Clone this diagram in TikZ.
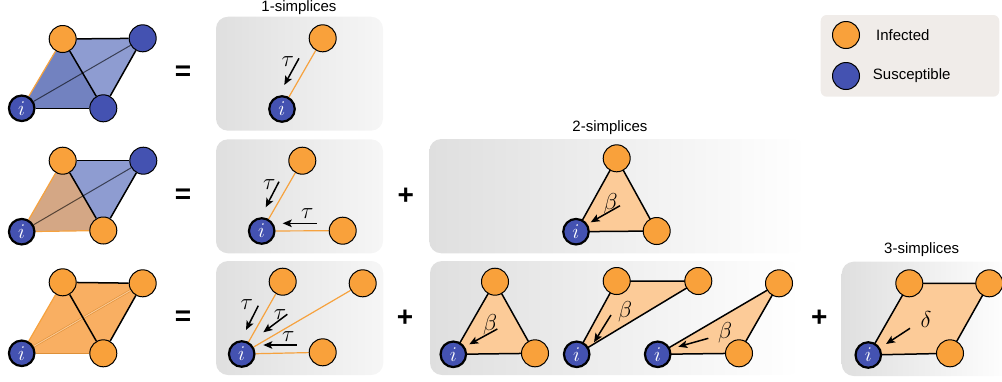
\RequirePackage{fix-cm}
\documentclass[tikz,border=0pt]{standalone}
\usepackage[no-math]{fontspec}
\setmainfont{Liberation Sans}
\usetikzlibrary{arrows.meta}
\definecolor{infc}{HTML}{F9A13B}
\definecolor{susc}{HTML}{4452B1}
\definecolor{facec}{HTML}{FCCB98}
\definecolor{edgeo}{HTML}{F6A23E}
\definecolor{panelL}{HTML}{DFDFDF}
\definecolor{legendc}{HTML}{F0ECE9}
\definecolor{blueA}{HTML}{7282C0}
\definecolor{blueB}{HTML}{8E9CD1}
\definecolor{tanA}{HTML}{D4A785}
\definecolor{orA}{HTML}{F9AF62}
\definecolor{orD}{HTML}{DE9038}
\pgfdeclarelayer{boxes}
\pgfdeclarelayer{faces}
\pgfsetlayers{boxes,faces,main}
\begin{document}
\begin{tikzpicture}[x=1pt,y=-1pt,
  inf/.style={circle,draw=black,line width=1pt,fill=infc,minimum size=27pt,inner sep=0pt},
  sus/.style={circle,draw=black,line width=1pt,fill=susc,minimum size=27pt,inner sep=0pt},
  me/.style={circle,draw=black,line width=2.2pt,fill=susc,minimum size=25.5pt,inner sep=0pt,
    text=white,font=\fontsize{21}{21}\selectfont},
  bedge/.style={draw=black,line width=1.5pt},
  oedge/.style={draw=edgeo,line width=1.2pt},
  rate/.style={-{Stealth[length=9pt,width=7.5pt,inset=2pt]},line width=1.5pt},
  rlab/.style={font=\fontsize{23}{23}\selectfont,inner sep=0pt},
  sign/.style={font=\fontsize{28}{28}\selectfont\bfseries,inner sep=0pt},
  title/.style={font=\fontsize{15}{15}\selectfont,inner sep=0pt},
  softpanel/.style={rounded corners=12pt,left color=panelL,right color=gray!7},
  panel/.style={rounded corners=12pt,left color=panelL,right color=white},
  face/.style={fill=facec}]
\useasboundingbox (0,0) rectangle (1002,381);

% ---------- panels and legend ----------
\begin{pgfonlayer}{boxes}
  \shade[softpanel] (216,16.7) rectangle (383,130.7);
  \shade[softpanel] (216,139.3) rectangle (383,253.3);
  \shade[panel] (429.3,139) rectangle (806,253.3);
  \shade[softpanel] (216,261) rectangle (383.3,375);
  \shade[panel] (430,261) rectangle (800,375);
  \shade[panel] (841.7,261.7) rectangle (1012,376);
  \fill[legendc,rounded corners=6pt] (820.7,15) rectangle (999.3,96.7);
\end{pgfonlayer}

\node[title] (t1) at (299,8) {1-simplices};
\node[title] (t2) at (610,127.7) {2-simplices};
\node[title] (t3) at (921.7,250) {3-simplices};

% ---------- legend ----------
\node[inf] (lgI) at (846,35) {};
\node[sus] (lgS) at (846,76) {};
\node[title,anchor=west] (lgIt) at (876,35) {Infected};
\node[title,anchor=west] (lgSt) at (872.7,76) {Susceptible};

% ---------- left column: three neighbourhoods of node i ----------
% row 1
\node[me]  (a1) at (21.7,108.3) {$i$};
\node[inf] (a2) at (62.7,39) {};
\node[sus] (a3) at (142.7,38.3) {};
\node[sus] (a4) at (103.3,108.3) {};
\begin{pgfonlayer}{faces}
  \fill[blueB] (a1.center) -- (a2.center) -- (a3.center) -- (a4.center) -- cycle;
  \fill[blueA] (a1.center) -- (a2.center) -- (a4.center) -- cycle;
  \draw[black,opacity=0.6,line width=1pt] (a1) -- (a3);
  \draw[oedge] (a1) -- (a2);
  \draw[bedge] (a1) -- (a4);
  \draw[bedge] (a2) -- (a4);
  \draw[bedge] (a2) -- (a3);
  \draw[bedge] (a3) -- (a4);
\end{pgfonlayer}
\node[sign] (eq1) at (183,73) {=};

% row 2
\node[me]  (b1) at (21.7,231.7) {$i$};
\node[inf] (b2) at (62.7,160.7) {};
\node[sus] (b3) at (143.3,160.7) {};
\node[inf] (b4) at (103.3,230.5) {};
\begin{pgfonlayer}{faces}
  \fill[blueB] (b2.center) -- (b3.center) -- (b4.center) -- cycle;
  \fill[tanA] (b1.center) -- (b2.center) -- (b4.center) -- cycle;
  \draw[black,opacity=0.6,line width=1pt] (b1) -- (b3);
  \draw[oedge] (b1) -- (b2);
  \draw[oedge] (b1) -- (b4);
  \draw[bedge] (b2) -- (b4);
  \draw[bedge] (b2) -- (b3);
  \draw[bedge] (b3) -- (b4);
\end{pgfonlayer}
\node[sign] (eq2) at (183,196) {=};

% row 3
\node[me]  (c1) at (21.7,353.3) {$i$};
\node[inf] (c2) at (62.7,282.3) {};
\node[inf] (c3) at (142.7,283.3) {};
\node[inf] (c4) at (103.3,353.3) {};
\begin{pgfonlayer}{faces}
  \fill[orA] (c1.center) -- (c2.center) -- (c3.center) -- (c4.center) -- cycle;
  \draw[orD,double=orA!70!white,double distance=1pt,line width=0.6pt] (c1) -- (c3);
  \draw[oedge] (c1) -- (c2);
  \draw[orD,line width=1.5pt] (c1) -- (c4);
  \draw[bedge] (c2) -- (c4);
  \draw[bedge] (c2) -- (c3);
  \draw[bedge] (c3) -- (c4);
\end{pgfonlayer}
\node[sign] (eq3) at (183,318) {=};

% ---------- 1-simplices, row 1 ----------
\node[me]  (p1i) at (282,109) {$i$};
\node[inf] (p1a) at (322.7,38.3) {};
\begin{pgfonlayer}{faces}
  \draw[oedge] (p1i) -- (p1a);
\end{pgfonlayer}
\draw[rate] (299,58.3) -- (284.3,85);
\node[rlab] (p1t) at (287.7,61.7) {$\tau$};

% ---------- 1-simplices, row 2 ----------
\node[me]  (p2i) at (261.7,231) {$i$};
\node[inf] (p2a) at (302.3,160.7) {};
\node[inf] (p2b) at (342.7,230.7) {};
\begin{pgfonlayer}{faces}
  \draw[oedge] (p2i) -- (p2a);
  \draw[oedge] (p2i) -- (p2b);
\end{pgfonlayer}
\draw[rate] (279,181.7) -- (265.7,207.3);
\node[rlab] (p2t1) at (269.3,185) {$\tau$};
\draw[rate] (316.7,223.3) -- (282.7,223.3);
\node[rlab] (p2t2) at (307.3,213.3) {$\tau$};
\node[sign] (pl1) at (405.7,196.7) {+};

% ---------- 2-simplex, row 2 ----------
\node[me]  (q1i) at (576,231.7) {$i$};
\node[inf] (q1a) at (616.7,158.3) {};
\node[inf] (q1b) at (656.7,231) {};
\begin{pgfonlayer}{faces}
  \filldraw[face,bedge] (q1i.center) -- (q1a.center) -- (q1b.center) -- cycle;
\end{pgfonlayer}
\draw[rate] (620,205.7) -- (590.7,222.3);
\node[rlab] (q1l) at (610.5,203.3) {$\beta$};

% ---------- 1-simplices, row 3 ----------
\node[me]  (p3i) at (241.7,354) {$i$};
\node[inf] (p3a) at (282.7,281.7) {};
\node[inf] (p3b) at (362.7,283.3) {};
\node[inf] (p3c) at (322.7,352.3) {};
\begin{pgfonlayer}{faces}
  \draw[oedge] (p3i) -- (p3a);
  \draw[oedge] (p3i) -- (p3b);
  \draw[oedge] (p3i) -- (p3c);
\end{pgfonlayer}
\draw[rate] (258.3,305.7) -- (246,330);
\node[rlab] (p3t1) at (246.7,305) {$\tau$};
\draw[rate] (287.3,314.3) -- (263.3,332.3);
\node[rlab] (p3t2) at (280,315) {$\tau$};
\draw[rate] (296.7,345) -- (263.3,345);
\node[rlab] (p3t3) at (288.3,336.7) {$\tau$};
\node[sign] (pl2) at (405,318.3) {+};

% ---------- 2-simplices, row 3 ----------
\node[me]  (r1i) at (453.3,354.3) {$i$};
\node[inf] (r1a) at (495,281.7) {};
\node[inf] (r1b) at (535,353.3) {};
\node[me]  (r2i) at (576.7,354.3) {$i$};
\node[inf] (r2a) at (616.7,281) {};
\node[inf] (r2b) at (698.3,281) {};
\node[me]  (r3i) at (657.7,354.3) {$i$};
\node[inf] (r3a) at (779,283.3) {};
\node[inf] (r3b) at (739,353.3) {};
\begin{pgfonlayer}{faces}
  \filldraw[face,bedge] (r1i.center) -- (r1a.center) -- (r1b.center) -- cycle;
  \filldraw[face,bedge] (r2i.center) -- (r2a.center) -- (r2b.center) -- cycle;
  \filldraw[face,bedge] (r3i.center) -- (r3a.center) -- (r3b.center) -- cycle;
\end{pgfonlayer}
\draw[rate] (497.3,329) -- (469.3,344.3);
\node[rlab] (r1l) at (490,325) {$\beta$};
\draw[rate] (611,315) -- (594,342.3);
\node[rlab] (r2l) at (625,311.7) {$\beta$};
\draw[rate] (708.3,338.3) -- (678.3,346.7);
\node[rlab] (r3l) at (725,332.3) {$\beta$};
\node[sign] (pl3) at (819.3,318.3) {+};

% ---------- 3-simplex, row 3 ----------
\node[me]  (s1i) at (868.3,355) {$i$};
\node[inf] (s1a) at (909.3,283.3) {};
\node[inf] (s1b) at (989.3,283.3) {};
\node[inf] (s1c) at (950,353.3) {};
\begin{pgfonlayer}{faces}
  \filldraw[face,bedge] (s1i.center) -- (s1a.center) -- (s1b.center) -- (s1c.center) -- cycle;
\end{pgfonlayer}
\draw[rate] (910,328.3) -- (886,344);
\node[rlab] (s1l) at (926,319.3) {$\delta$};
\end{tikzpicture}
\end{document}
